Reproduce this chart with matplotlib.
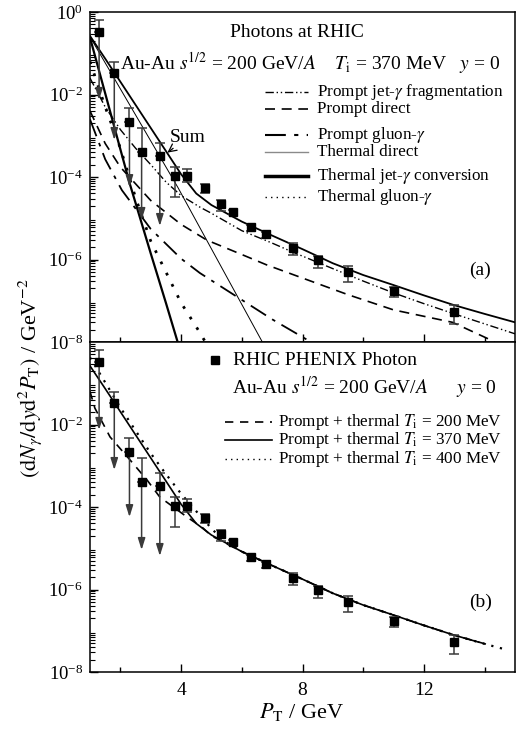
import numpy as np
import matplotlib
matplotlib.use("Agg")
import matplotlib.pyplot as plt
from matplotlib.ticker import LogLocator, NullFormatter, FixedLocator
from matplotlib.lines import Line2D

plt.rcParams['font.family'] = ['Liberation Serif', 'DejaVu Serif']
plt.rcParams['mathtext.fontset'] = 'stix'

# ---------------- data ----------------
# PHENIX photon data points
pt = [1.3, 1.8, 2.3, 2.7, 3.3, 3.8, 4.2, 4.8, 5.3, 5.7, 6.3, 6.8, 7.7, 8.5, 9.5, 11.0, 13.0]
yld = [0.33, 0.033, 2.15e-3, 4.0e-4, 3.2e-4, 1.06e-4, 1.06e-4, 5.4e-5, 2.2e-5, 1.42e-5,
       6.1e-6, 4.15e-6, 1.9e-6, 9.7e-7, 5.0e-7, 1.72e-7, 5.4e-8]
yld_hi = [0.64, 0.061, 4.7e-3, 1.55e-3, 6.6e-4, 1.75e-4, 1.6e-4, 6.6e-5, 2.7e-5, 1.6e-5,
          6.8e-6, 4.6e-6, 2.5e-6, 1.2e-6, 7.0e-7, 2.1e-7, 7.9e-8]
# lower end: arrow tip for the first five (upper limits), error bar end otherwise
yld_lo = [7.4e-3, 7.9e-4, 5.7e-5, 9.1e-6, 6.5e-6, 3.3e-5, 7.5e-5, 4.2e-5, 1.5e-5, 1.25e-5,
          5.0e-6, 3.3e-6, 1.3e-6, 6.3e-7, 2.9e-7, 1.2e-7, 2.7e-8]
n_limits = 5

# (a) components
sum_x = [1.0, 1.5, 2.0, 2.5, 3.0, 3.5, 4.0, 4.5, 5.0, 6.0, 7.0, 8.0, 9.0, 10.0, 11.0, 12.0, 13.0, 14.0, 15.0]
sum_y = [0.263, 0.0741, 0.0204, 5.62e-3, 1.55e-3, 4.27e-4, 1.17e-4, 3.98e-5, 2.09e-5, 8.3e-6,
         3.8e-6, 1.78e-6, 8.1e-7, 4.2e-7, 2.4e-7, 1.35e-7, 7.8e-8, 4.8e-8, 3.0e-8]

frag_x = [1.0, 1.5, 2.0, 2.5, 3.0, 3.5, 4.0, 4.62, 5.0, 6.0, 7.0, 7.68, 9.0, 10.0, 11.0, 12.0, 13.0, 14.0, 15.0]
frag_y = [2.5e-2, 5.0e-3, 1.41e-3, 5.0e-4, 2.0e-4, 7.6e-5, 3.55e-5, 1.86e-5, 1.32e-5, 5.0e-6,
          2.5e-6, 1.51e-6, 6.0e-7, 3.0e-7, 1.55e-7, 8.5e-8, 4.8e-8, 2.75e-8, 1.58e-8]

pdir_x = [1.0, 1.5, 2.0, 3.0, 4.0, 4.85, 6.0, 6.82, 8.0, 9.49, 11.0, 12.94, 14.2, 14.6]
pdir_y = [4.0e-3, 6.5e-4, 1.74e-4, 2.7e-5, 7.1e-6, 2.95e-6, 1.32e-6, 7.4e-7, 3.55e-7, 1.41e-7,
          6.0e-8, 3.0e-8, 1.12e-8, 7.1e-9]

pglu_x = [1.0, 1.5, 2.05, 3.0, 4.0, 4.62, 6.0, 7.0, 8.33]
pglu_y = [2.5e-3, 2.7e-4, 4.8e-5, 5.5e-6, 1.05e-6, 4.7e-7, 1.05e-7, 3.55e-8, 9.5e-9]

tdir_x = [1.0, 3.9, 6.7]
tdir_y = [0.25, 5.5e-5, 9.3e-9]

tconv_x = [1.0, 1.5, 2.0, 2.32, 3.0, 3.5, 3.9]
tconv_y = [0.24, 0.0107, 4.7e-4, 6.5e-5, 1.41e-6, 8.9e-8, 9.3e-9]

tglu_x = [1.0, 1.5, 2.0, 2.5, 3.0, 3.5, 4.0, 4.6, 4.8]
tglu_y = [6.3e-2, 5.0e-3, 5.0e-4, 3.16e-5, 2.8e-6, 5.0e-7, 8.9e-8, 1.78e-8, 1.0e-8]

# (b) prompt + thermal for three initial temperatures
t200_x = [1.0, 1.16, 1.66, 2.32, 2.88, 3.3, 4.19, 4.72, 5.0, 6.0, 7.0, 8.0, 9.0, 10.0, 11.0, 12.0, 13.0, 14.2]
t200_y = [6.3e-2, 2.5e-2, 5.0e-3, 1.38e-3, 4.5e-4, 1.74e-4, 5.75e-5, 3.1e-5, 2.0e-5, 8.3e-6,
          3.8e-6, 1.78e-6, 8.1e-7, 4.2e-7, 2.4e-7, 1.35e-7, 7.8e-8, 4.4e-8]
t370_x = sum_x[:-2] + [13.8]
t370_y = sum_y[:-2] + [5.3e-8]
t400_x = [1.0, 1.5, 2.0, 2.5, 3.0, 3.5, 4.0, 4.5, 5.05, 5.5, 6.0, 7.0, 8.0, 9.0, 10.0, 11.0, 12.0, 13.0, 14.0, 14.7]
t400_y = [0.42, 0.105, 0.0257, 7.1e-3, 2.0e-3, 6.3e-4, 2.1e-4, 7.9e-5, 2.75e-5, 1.38e-5,
          8.3e-6, 3.8e-6, 1.78e-6, 8.1e-7, 4.2e-7, 2.4e-7, 1.35e-7, 7.8e-8, 4.8e-8, 3.5e-8]

# ---------------- styles ----------------
LS_FRAG = (0, (6, 2, 1, 2, 1, 2))
LS_PDIR = (0, (6, 4))
LS_PGLU = (0, (10, 4, 2, 4))
LS_DOT = (0, (1, 3))
LS_BIGDOT = (0, (1, 3.5))

W, H = 529, 732
fig = plt.figure(figsize=(W / 100, H / 100), dpi=100)
left, right = 90 / W, 515 / W
ax1 = fig.add_axes([left, 1 - 342 / H, right - left, 330 / H])
ax2 = fig.add_axes([left, 1 - 672 / H, right - left, 330 / H], sharex=ax1)

for ax in (ax1, ax2):
    ax.set_yscale('log')
    ax.set_xlim(1, 15)
    ax.set_ylim(1e-8, 1)
    for s in ax.spines.values():
        s.set_linewidth(1.1)
    ax.xaxis.set_major_locator(FixedLocator([4, 8, 12]))
    ax.xaxis.set_minor_locator(FixedLocator([2, 6, 10, 14]))
    ax.yaxis.set_major_locator(LogLocator(base=10, numticks=20))
    ax.yaxis.set_minor_locator(LogLocator(base=10, subs=np.arange(2, 10), numticks=20))
    ax.yaxis.set_minor_formatter(NullFormatter())
    ax.tick_params(which='both', direction='in', top=False, right=False)
    ax.tick_params(axis='x', which='major', length=5.5, width=1, labelsize=14, pad=7)
    ax.tick_params(axis='x', which='minor', length=3.5, width=1)
    ax.tick_params(axis='y', which='major', length=6, width=1, pad=5, labelsize=13.5)
    ax.tick_params(axis='y', which='minor', length=3.5, width=0.8)

ax1.set_yticks([1, 1e-2, 1e-4, 1e-6, 1e-8])
ax2.set_yticks([1e-2, 1e-4, 1e-6, 1e-8])
ax1.tick_params(axis='x', labelbottom=False)


def draw_points(ax):
    x = np.array(pt)
    y = np.array(yld)
    hi = np.array(yld_hi)
    lo = np.array(yld_lo)
    k = n_limits
    ecol = '#3a3a3a'
    # upper limits: upward bar with cap, downward arrow
    ax.errorbar(x[:k], y[:k], yerr=[np.zeros(k), hi[:k] - y[:k]], fmt='none',
                ecolor=ecol, elinewidth=1.1, capsize=3.5, capthick=1.1, zorder=3)
    for xi, yi, li in zip(x[:k], y[:k], lo[:k]):
        ax.annotate('', xy=(xi, li), xytext=(xi, yi),
                    arrowprops=dict(arrowstyle='-|>,head_length=0.7,head_width=0.22',
                                    color=ecol, lw=1.1, shrinkA=0, shrinkB=0), zorder=3)
    ax.errorbar(x[k:], y[k:], yerr=[y[k:] - lo[k:], hi[k:] - y[k:]], fmt='none',
                ecolor=ecol, elinewidth=1.1, capsize=3.5, capthick=1.1, zorder=3)
    ax.plot(x, y, 's', color='black', ms=6, zorder=4)


# ---- panel (a)
ax1.plot(frag_x, frag_y, color='black', lw=1.0, ls=LS_FRAG)
ax1.plot(pdir_x, pdir_y, color='black', lw=1.2, ls=LS_PDIR)
ax1.plot(pglu_x, pglu_y, color='black', lw=1.3, ls=LS_PGLU)
ax1.plot(tdir_x, tdir_y, color='black', lw=0.7)
ax1.plot(tconv_x, tconv_y, color='black', lw=1.6)
ax1.plot(tglu_x, tglu_y, color='black', lw=2.0, ls=LS_BIGDOT)
ax1.plot(sum_x, sum_y, color='black', lw=1.3)
draw_points(ax1)

fs_big = 14
ax1.text(0.487, 0.939, 'Photons at RHIC', transform=ax1.transAxes, ha='center', va='center', fontsize=fs_big)
ax1.text(0.07, 0.845, r'Au-Au $s^{1/2}$ = 200 GeV/$A$    $T_{\mathrm{i}}$ = 370 MeV   $y$ = 0',
         transform=ax1.transAxes, ha='left', va='center', fontsize=fs_big)

leg1 = [
    ('Prompt jet-$\\gamma$ fragmentation', dict(color='black', lw=1.0, ls=LS_FRAG), 0.758),
    ('Prompt direct', dict(color='black', lw=1.2, ls=LS_PDIR), 0.706),
    ('Prompt gluon-$\\gamma$', dict(color='black', lw=1.5, ls=LS_PGLU), 0.627),
    ('Thermal direct', dict(color='#8a8a8a', lw=1.0), 0.576),
    ('Thermal jet-$\\gamma$ conversion', dict(color='black', lw=2.5), 0.503),
    ('Thermal gluon-$\\gamma$', dict(color='black', lw=1.0, ls=LS_DOT), 0.439),
]
for label, st, yy in leg1:
    ax1.add_line(Line2D([0.412, 0.513], [yy, yy], transform=ax1.transAxes, **st))
    ax1.text(0.534, yy, label, transform=ax1.transAxes, ha='left', va='center', fontsize=12.3)

ax1.annotate('Sum', xy=(3.55, 3.9e-4), xytext=(0.231, 0.621), textcoords='axes fraction',
             ha='center', va='center', fontsize=fs_big,
             arrowprops=dict(arrowstyle='->', color='black', lw=0.9, shrinkA=6, shrinkB=0))
ax1.text(0.918, 0.218, '(a)', transform=ax1.transAxes, ha='center', va='center', fontsize=fs_big)

# ---- panel (b)
ax2.plot(t200_x, t200_y, color='black', lw=1.2, ls=(0, (5, 4)))
ax2.plot(t370_x, t370_y, color='black', lw=1.2)
ax2.plot(t400_x, t400_y, color='black', lw=1.6, ls=LS_DOT)
draw_points(ax2)

ax2.plot([0.294], [0.945], 's', color='black', ms=6, transform=ax2.transAxes)
ax2.text(0.336, 0.945, 'RHIC PHENIX Photon', transform=ax2.transAxes, ha='left', va='center', fontsize=fs_big)
ax2.text(0.334, 0.864, r'Au-Au $s^{1/2}$ = 200 GeV/$A$      $y$ = 0',
         transform=ax2.transAxes, ha='left', va='center', fontsize=fs_big)
leg2 = [
    (r'Prompt + thermal $T_{\mathrm{i}}$ = 200 MeV', dict(color='black', lw=1.2, ls=(0, (5, 4))), 0.758),
    (r'Prompt + thermal $T_{\mathrm{i}}$ = 370 MeV', dict(color='black', lw=1.2), 0.703),
    (r'Prompt + thermal $T_{\mathrm{i}}$ = 400 MeV', dict(color='black', lw=1.0, ls=LS_DOT), 0.645),
]
for label, st, yy in leg2:
    ax2.add_line(Line2D([0.318, 0.428], [yy, yy], transform=ax2.transAxes, **st))
    ax2.text(0.442, yy, label, transform=ax2.transAxes, ha='left', va='center', fontsize=12.3)
ax2.text(0.918, 0.212, '(b)', transform=ax2.transAxes, ha='center', va='center', fontsize=fs_big)

# axis labels
fig.text(302 / W, 1 - 712 / H, r'$P_{\mathrm{T}}$ / GeV', ha='center', va='center', fontsize=16)
fig.text(30 / W, 1 - 378 / H,
         r'$(\mathrm{d}N_{\gamma}/\mathrm{d}y\mathrm{d}^2P_{\mathrm{T}})$ / GeV$^{-2}$',
         rotation=90, ha='center', va='center', fontsize=16)

fig.savefig('out.png', dpi=100)
